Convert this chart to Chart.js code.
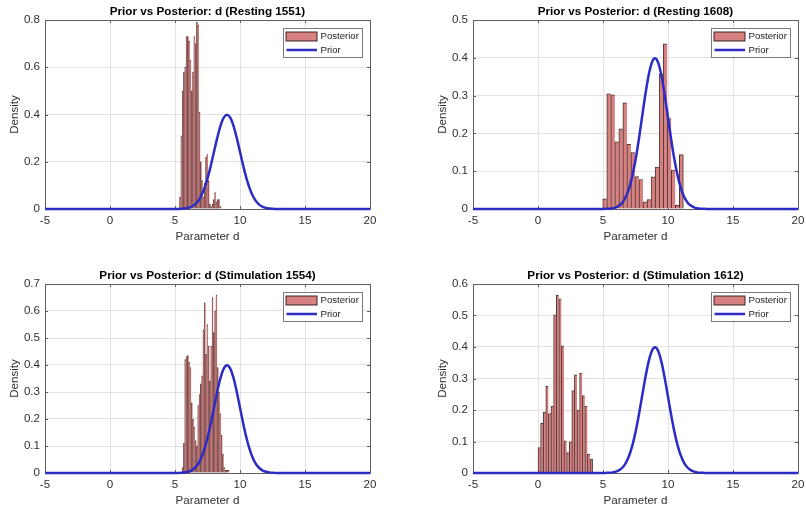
<!DOCTYPE html>
<html>
<head>
<meta charset="utf-8">
<script src="https://cdn.jsdelivr.net/npm/chart.js@4.4.1/dist/chart.umd.min.js"></script>
<style>
  html, body { margin: 0; padding: 0; background: #fff; overflow: hidden; }
  #wrap { position: relative; width: 806px; height: 508px; overflow: hidden; background: #fff; }
  #wrap canvas { position: absolute; }
</style>
</head>
<body>
<div id="wrap">
  <canvas id="p1" width="403" height="254" style="left:0px;top:0px"></canvas>
  <canvas id="p2" width="403" height="254" style="left:428px;top:0px"></canvas>
  <canvas id="p3" width="403" height="254" style="left:0px;top:264px"></canvas>
  <canvas id="p4" width="403" height="254" style="left:428px;top:264px"></canvas>
</div>
<script>
// Prior density of d (normal, mean 9, sd 1), sampled along the x axis
const priorX = [-5, 5, 5.25, 5.5, 5.75, 6, 6.25, 6.5, 6.75, 7, 7.25, 7.5, 7.75, 8, 8.25, 8.5, 8.75,
                9, 9.25, 9.5, 9.75, 10, 10.25, 10.5, 10.75, 11, 11.25, 11.5, 11.75, 12, 12.25, 12.5, 12.75, 13, 20];
const priorY = [0, 0.0001, 0.0004, 0.0009, 0.0020, 0.0044, 0.0091, 0.0175, 0.0317, 0.0540, 0.0863, 0.1295, 0.1826, 0.2420, 0.3011, 0.3521, 0.3867,
                0.3989, 0.3867, 0.3521, 0.3011, 0.2420, 0.1826, 0.1295, 0.0863, 0.0540, 0.0317, 0.0175, 0.0091, 0.0044, 0.0020, 0.0009, 0.0004, 0.0001, 0];

// Posterior histograms: first bin edge, bin width, density of each bin
const rest1551Start = 5.35, rest1551Width = 0.1;
const rest1551Density = [0.05, 0.31, 0.50, 0.58, 0.60, 0.73, 0.73, 0.71, 0.63, 0.50, 0.58, 0.73, 0.70, 0.79, 0.78, 0.41,
                         0.20, 0.12, 0.05, 0.11, 0.22, 0.23, 0.12, 0.02, 0.01, 0.02, 0.04, 0.07, 0.03, 0.04, 0.04, 0.01];

const rest1608Start = 4.98, rest1608Width = 0.31;
const rest1608Density = [0.027, 0.305, 0.302, 0.178, 0.212, 0.281, 0.171, 0.149, 0.086, 0.078,
                         0.019, 0.025, 0.085, 0.111, 0.357, 0.437, 0.239, 0.103, 0.010, 0.144];

const stim1554Start = 5.55, stim1554Width = 0.1;
const stim1554Density = [0.02, 0.11, 0.42, 0.43, 0.435, 0.41, 0.39, 0.26, 0.20, 0.17, 0.12, 0.10,
                         0.25, 0.29, 0.33, 0.36, 0.53, 0.63, 0.44, 0.55, 0.47, 0.34, 0.47, 0.65,
                         0.52, 0.60, 0.66, 0.39, 0.30, 0.22, 0.14, 0.07, 0.02, 0.01, 0.01, 0.01];

const stim1612Start = 0.0, stim1612Width = 0.2;
const stim1612Density = [0.081, 0.158, 0.193, 0.275, 0.189, 0.212, 0.502, 0.565, 0.553, 0.404, 0.102,
                         0.065, 0.099, 0.262, 0.312, 0.200, 0.317, 0.246, 0.212, 0.060, 0.044];

// Axis ticks
const xTicks = [-5, 0, 5, 10, 15, 20];
const yTicks1551 = [0, 0.2, 0.4, 0.6, 0.8];
const yTicks1608 = [0, 0.1, 0.2, 0.3, 0.4, 0.5];
const yTicks1554 = [0, 0.1, 0.2, 0.3, 0.4, 0.5, 0.6, 0.7];
const yTicks1612 = [0, 0.1, 0.2, 0.3, 0.4, 0.5, 0.6];

// Labels
const xLabel = 'Parameter d';
const yLabel = 'Density';
const posteriorLabel = 'Posterior';
const priorLabel = 'Prior';

const FONT = '"Liberation Sans", Arial, Helvetica, sans-serif';
const BAR_FILL = 'rgb(214,128,128)';
const BAR_EDGE = 'rgba(45,18,18,0.85)';
const PRIOR_COLOR = 'rgb(44,44,196)';
const AXIS_COLOR = '#5e5e5e';
const GRID_COLOR = '#e2e2e2';
const TEXT_COLOR = '#303030';

Chart.defaults.font.family = FONT;

const priorPoints = priorX.map((x, i) => ({ x: x, y: priorY[i] }));

function binPoints(start, width, density) {
  return density.map((d, i) => ({ x: start + width * (i + 0.5), y: d }));
}

// Box around the axes with inward tick marks on all four sides
const axesBox = {
  id: 'axesBox',
  beforeDatasetsDraw(chart) {
    const { ctx, chartArea: a, scales } = chart;
    ctx.save();
    ctx.strokeStyle = AXIS_COLOR;
    ctx.lineWidth = 1;
    ctx.beginPath();
    ctx.rect(Math.round(a.left) + 0.5, Math.round(a.top) + 0.5,
             Math.round(a.right) - Math.round(a.left), Math.round(a.bottom) - Math.round(a.top));
    const len = 3;
    scales.x.ticks.forEach(t => {
      const px = Math.round(scales.x.getPixelForValue(t.value)) + 0.5;
      ctx.moveTo(px, a.bottom); ctx.lineTo(px, a.bottom - len);
      ctx.moveTo(px, a.top); ctx.lineTo(px, a.top + len);
    });
    scales.y.ticks.forEach(t => {
      const py = Math.round(scales.y.getPixelForValue(t.value)) + 0.5;
      ctx.moveTo(a.left, py); ctx.lineTo(a.left + len, py);
      ctx.moveTo(a.right, py); ctx.lineTo(a.right - len, py);
    });
    ctx.stroke();
    ctx.restore();
  }
};

// Title centred above the axes, and legend box in the upper right corner
function decorations(titleText) {
  return {
    id: 'decorations',
    afterDraw(chart) {
      const { ctx, chartArea: a } = chart;
      ctx.save();
      ctx.fillStyle = '#000';
      ctx.font = 'bold 11.7px ' + FONT;
      ctx.textAlign = 'center';
      ctx.textBaseline = 'middle';
      ctx.fillText(titleText, (a.left + a.right) / 2, 12);

      const bw = 79, bh = 29;
      const bx = Math.round(a.right - 87.5) + 0.5;
      const by = Math.round(a.top + 8) + 0.5;
      ctx.fillStyle = '#fff';
      ctx.fillRect(bx, by, bw, bh);
      ctx.strokeStyle = '#7a7a7a';
      ctx.lineWidth = 1;
      ctx.strokeRect(bx, by, bw, bh);

      const bar = chart.data.datasets[1];
      const line = chart.data.datasets[0];
      ctx.fillStyle = BAR_FILL;
      ctx.fillRect(bx + 2.5, by + 3.5, 31, 9);
      ctx.strokeStyle = 'rgba(45,18,18,0.9)';
      ctx.strokeRect(bx + 2.5, by + 3.5, 31, 9);

      ctx.strokeStyle = PRIOR_COLOR;
      ctx.lineWidth = 2.5;
      ctx.beginPath();
      ctx.moveTo(bx + 3, by + 21.5);
      ctx.lineTo(bx + 33.5, by + 21.5);
      ctx.stroke();

      ctx.fillStyle = '#222';
      ctx.font = '9.6px ' + FONT;
      ctx.textAlign = 'left';
      ctx.fillText(bar.label, bx + 37, by + 8.3);
      ctx.fillText(line.label, bx + 37, by + 22);
      ctx.restore();
    }
  };
}

function makePanel(id, titleText, start, width, density, yTicks) {
  const bins = binPoints(start, width, density);
  const last = bins.length - 1;
  const yMax = yTicks[yTicks.length - 1];
  new Chart(document.getElementById(id), {
    type: 'bar',
    data: {
      datasets: [
        {
          type: 'line',
          label: priorLabel,
          data: priorPoints,
          order: 0,
          borderColor: PRIOR_COLOR,
          borderWidth: 2.5,
          pointRadius: 0,
          cubicInterpolationMode: 'monotone',
          clip: 4
        },
        {
          type: 'bar',
          label: posteriorLabel,
          data: bins,
          order: 1,
          backgroundColor: BAR_FILL,
          borderColor: BAR_EDGE,
          borderWidth: ctx => ({ top: 1, left: 1, right: ctx.dataIndex === last ? 1 : 0, bottom: 0 }),
          barPercentage: 1,
          categoryPercentage: 1,
          grouped: false
        }
      ]
    },
    options: {
      responsive: false,
      animation: false,
      devicePixelRatio: 1,
      events: [],
      layout: { padding: { top: 20, right: 33, left: 0, bottom: 0 } },
      plugins: { legend: { display: false }, tooltip: { enabled: false } },
      scales: {
        x: {
          type: 'linear',
          min: -5,
          max: 20,
          offset: false,
          afterBuildTicks: s => { s.ticks = xTicks.map(v => ({ value: v })); },
          afterFit: s => { s.height = 45; },
          ticks: { padding: 5, color: TEXT_COLOR, font: { size: 11.6 }, maxRotation: 0, autoSkip: false,
                   callback: v => String(v) },
          grid: { offset: false, color: GRID_COLOR, drawTicks: false },
          border: { display: false },
          title: { display: true, text: xLabel, color: TEXT_COLOR, font: { size: 11.6, lineHeight: 1.2 },
                   padding: { top: 0, bottom: 10 } }
        },
        y: {
          type: 'linear',
          min: 0,
          max: yMax,
          afterBuildTicks: s => { s.ticks = yTicks.map(v => ({ value: v })); },
          afterFit: s => { s.width = 45; },
          ticks: { padding: 5, color: TEXT_COLOR, font: { size: 11.6 }, autoSkip: false,
                   callback: v => String(v) },
          grid: { color: GRID_COLOR, drawTicks: false },
          border: { display: false },
          title: { display: true, text: yLabel, color: TEXT_COLOR, font: { size: 11.6, lineHeight: 1.2 },
                   padding: { top: 8, bottom: 0 } }
        }
      }
    },
    plugins: [axesBox, decorations(titleText)]
  });
}

makePanel('p1', 'Prior vs Posterior: d (Resting 1551)', rest1551Start, rest1551Width, rest1551Density, yTicks1551);
makePanel('p2', 'Prior vs Posterior: d (Resting 1608)', rest1608Start, rest1608Width, rest1608Density, yTicks1608);
makePanel('p3', 'Prior vs Posterior: d (Stimulation 1554)', stim1554Start, stim1554Width, stim1554Density, yTicks1554);
makePanel('p4', 'Prior vs Posterior: d (Stimulation 1612)', stim1612Start, stim1612Width, stim1612Density, yTicks1612);
</script>
</body>
</html>
